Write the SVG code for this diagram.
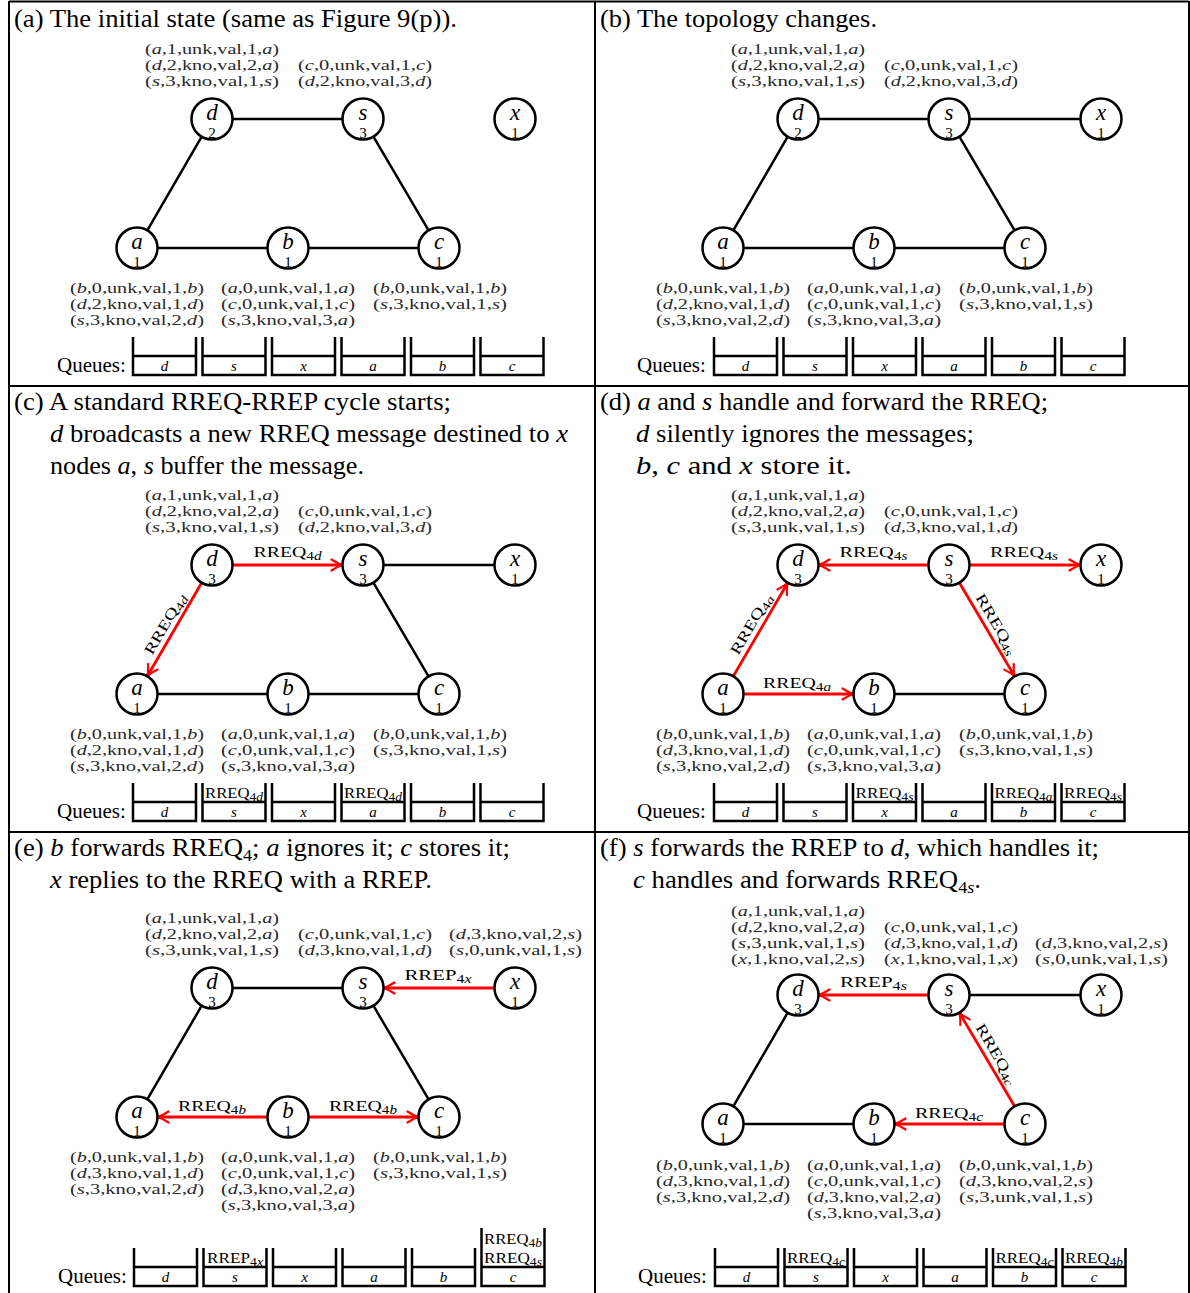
<svg xmlns="http://www.w3.org/2000/svg" width="1190" height="1293" viewBox="0 0 1190 1293">
<style>
text{font-family:"Liberation Serif","Times New Roman",serif;fill:#000}
.t{font-size:25px}
.e text{font-size:14px;fill:#2a2a2a}
.i{font-style:italic}
.nl{font-size:23px;font-style:italic;text-anchor:middle}
.nn{font-size:15px;text-anchor:middle}
.node circle{fill:#fff;stroke:#000;stroke-width:2.5}
.ln{stroke:#000;stroke-width:2.5;fill:none}
.rd{stroke:#f00;stroke-width:2.8;fill:none;marker-end:url(#arr)}
.lb{font-size:15px;text-anchor:middle}
.sb{font-size:11.5px}
.frame{stroke:#000;stroke-width:2;fill:none}
.qb{stroke:#000;stroke-width:2.5;fill:none}
.qn{font-size:21px}
.ql{font-size:15px;font-style:italic;text-anchor:middle}
.qm{font-size:15px;text-anchor:middle}
.qs{font-size:12px}
</style>
<defs>
<marker id="arr" markerUnits="userSpaceOnUse" markerWidth="16" markerHeight="14" viewBox="-14 -7 16 14" refX="0" refY="0" orient="auto" overflow="visible">
<path d="M-11,-5.5 Q-5,-1.5 0,0 Q-5,1.5 -11,5.5" fill="none" stroke="#f00" stroke-width="2.2" stroke-linecap="round"/>
</marker>
</defs>
<rect width="1190" height="1293" fill="#fff"/>
<path class="frame" d="M9,1.5 H1189 M9,1 V1293 M595,1 V1293 M1189,1 V1293 M9,386 H1189 M9,832 H1189"/>

<!-- Titles -->
<g id="titles">
<text class="t" x="14" y="27" textLength="443" lengthAdjust="spacingAndGlyphs">(a) The initial state (same as Figure 9(p)).</text>
<text class="t" x="600" y="27" textLength="277" lengthAdjust="spacingAndGlyphs">(b) The topology changes.</text>
<text class="t" x="14" y="410" textLength="437" lengthAdjust="spacingAndGlyphs">(c) A standard RREQ-RREP cycle starts;</text>
<text class="t" x="50" y="442" textLength="518" lengthAdjust="spacingAndGlyphs"><tspan class="i">d</tspan> broadcasts a new RREQ message destined to <tspan class="i">x</tspan></text>
<text class="t" x="50" y="474" textLength="314" lengthAdjust="spacingAndGlyphs">nodes <tspan class="i">a</tspan>, <tspan class="i">s</tspan> buffer the message.</text>
<text class="t" x="600" y="410" textLength="448" lengthAdjust="spacingAndGlyphs">(d) <tspan class="i">a</tspan> and <tspan class="i">s</tspan> handle and forward the RREQ;</text>
<text class="t" x="636" y="442" textLength="338" lengthAdjust="spacingAndGlyphs"><tspan class="i">d</tspan> silently ignores the messages;</text>
<text class="t" x="636" y="474" textLength="216" lengthAdjust="spacingAndGlyphs"><tspan class="i">b</tspan>, <tspan class="i">c</tspan> and <tspan class="i">x</tspan> store it.</text>
<text class="t" x="14" y="856" textLength="496" lengthAdjust="spacingAndGlyphs">(e) <tspan class="i">b</tspan> forwards RREQ<tspan font-size="17" dy="5">4</tspan><tspan dy="-5">; </tspan><tspan class="i">a</tspan> ignores it; <tspan class="i">c</tspan> stores it;</text>
<text class="t" x="50" y="888" textLength="382" lengthAdjust="spacingAndGlyphs"><tspan class="i">x</tspan> replies to the RREQ with a RREP.</text>
<text class="t" x="600" y="856" textLength="499" lengthAdjust="spacingAndGlyphs">(f) <tspan class="i">s</tspan> forwards the RREP to <tspan class="i">d</tspan>, which handles it;</text>
<text class="t" x="633" y="888" textLength="348" lengthAdjust="spacingAndGlyphs"><tspan class="i">c</tspan> handles and forwards RREQ<tspan font-size="17" dy="5">4<tspan class="i">s</tspan></tspan><tspan dy="-5">.</tspan></text>
</g>

<!-- Panel (a) -->
<g id="panel-a">
<g id="a-edges">
<path class="ln" d="M232.5,119 H342.5"/>
<path class="ln" d="M201.7,136.7 L147.3,230.3"/>
<path class="ln" d="M373.4,136.7 L428.6,230.3"/>
<path class="ln" d="M157.5,248 H267.5"/>
<path class="ln" d="M308.5,248 H418.5"/>
</g>
<g id="a-d" class="node"><circle cx="212" cy="119" r="20.5"/><text class="nl" x="212" y="119.5">d</text><text class="nn" x="212" y="138">2</text></g>
<g id="a-s" class="node"><circle cx="363" cy="119" r="20.5"/><text class="nl" x="363" y="119.5">s</text><text class="nn" x="363" y="138">3</text></g>
<g id="a-x" class="node"><circle cx="515" cy="119" r="20.5"/><text class="nl" x="515" y="119.5">x</text><text class="nn" x="515" y="138">1</text></g>
<g id="a-a" class="node"><circle cx="137" cy="248" r="20.5"/><text class="nl" x="137" y="248.5">a</text><text class="nn" x="137" y="267">1</text></g>
<g id="a-b" class="node"><circle cx="288" cy="248" r="20.5"/><text class="nl" x="288" y="248.5">b</text><text class="nn" x="288" y="267">1</text></g>
<g id="a-c" class="node"><circle cx="439" cy="248" r="20.5"/><text class="nl" x="439" y="248.5">c</text><text class="nn" x="439" y="267">1</text></g>
<g class="e">
<text x="145" y="53.5" textLength="134" lengthAdjust="spacingAndGlyphs">(<tspan class="i">a</tspan>,1,unk,val,1,<tspan class="i">a</tspan>)</text>
<text x="145" y="69.5" textLength="134" lengthAdjust="spacingAndGlyphs">(<tspan class="i">d</tspan>,2,kno,val,2,<tspan class="i">a</tspan>)</text>
<text x="145" y="85.5" textLength="134" lengthAdjust="spacingAndGlyphs">(<tspan class="i">s</tspan>,3,kno,val,1,<tspan class="i">s</tspan>)</text>
<text x="298" y="69.5" textLength="134" lengthAdjust="spacingAndGlyphs">(<tspan class="i">c</tspan>,0,unk,val,1,<tspan class="i">c</tspan>)</text>
<text x="298" y="85.5" textLength="134" lengthAdjust="spacingAndGlyphs">(<tspan class="i">d</tspan>,2,kno,val,3,<tspan class="i">d</tspan>)</text>
<text x="70" y="292.5" textLength="134" lengthAdjust="spacingAndGlyphs">(<tspan class="i">b</tspan>,0,unk,val,1,<tspan class="i">b</tspan>)</text>
<text x="70" y="308.5" textLength="134" lengthAdjust="spacingAndGlyphs">(<tspan class="i">d</tspan>,2,kno,val,1,<tspan class="i">d</tspan>)</text>
<text x="70" y="324.5" textLength="134" lengthAdjust="spacingAndGlyphs">(<tspan class="i">s</tspan>,3,kno,val,2,<tspan class="i">d</tspan>)</text>
<text x="221" y="292.5" textLength="134" lengthAdjust="spacingAndGlyphs">(<tspan class="i">a</tspan>,0,unk,val,1,<tspan class="i">a</tspan>)</text>
<text x="221" y="308.5" textLength="134" lengthAdjust="spacingAndGlyphs">(<tspan class="i">c</tspan>,0,unk,val,1,<tspan class="i">c</tspan>)</text>
<text x="221" y="324.5" textLength="134" lengthAdjust="spacingAndGlyphs">(<tspan class="i">s</tspan>,3,kno,val,3,<tspan class="i">a</tspan>)</text>
<text x="373" y="292.5" textLength="134" lengthAdjust="spacingAndGlyphs">(<tspan class="i">b</tspan>,0,unk,val,1,<tspan class="i">b</tspan>)</text>
<text x="373" y="308.5" textLength="134" lengthAdjust="spacingAndGlyphs">(<tspan class="i">s</tspan>,3,kno,val,1,<tspan class="i">s</tspan>)</text>
</g>
</g>

<!-- Panel (b) -->
<g id="panel-b" transform="translate(586,0)">
<g id="b-edges">
<path class="ln" d="M232.5,119 H342.5"/>
<path class="ln" d="M383.5,119 H494.5"/>
<path class="ln" d="M201.7,136.7 L147.3,230.3"/>
<path class="ln" d="M373.4,136.7 L428.6,230.3"/>
<path class="ln" d="M157.5,248 H267.5"/>
<path class="ln" d="M308.5,248 H418.5"/>
</g>
<g id="b-d" class="node"><circle cx="212" cy="119" r="20.5"/><text class="nl" x="212" y="119.5">d</text><text class="nn" x="212" y="138">2</text></g>
<g id="b-s" class="node"><circle cx="363" cy="119" r="20.5"/><text class="nl" x="363" y="119.5">s</text><text class="nn" x="363" y="138">3</text></g>
<g id="b-x" class="node"><circle cx="515" cy="119" r="20.5"/><text class="nl" x="515" y="119.5">x</text><text class="nn" x="515" y="138">1</text></g>
<g id="b-a" class="node"><circle cx="137" cy="248" r="20.5"/><text class="nl" x="137" y="248.5">a</text><text class="nn" x="137" y="267">1</text></g>
<g id="b-b" class="node"><circle cx="288" cy="248" r="20.5"/><text class="nl" x="288" y="248.5">b</text><text class="nn" x="288" y="267">1</text></g>
<g id="b-c" class="node"><circle cx="439" cy="248" r="20.5"/><text class="nl" x="439" y="248.5">c</text><text class="nn" x="439" y="267">1</text></g>
<g class="e">
<text x="145" y="53.5" textLength="134" lengthAdjust="spacingAndGlyphs">(<tspan class="i">a</tspan>,1,unk,val,1,<tspan class="i">a</tspan>)</text>
<text x="145" y="69.5" textLength="134" lengthAdjust="spacingAndGlyphs">(<tspan class="i">d</tspan>,2,kno,val,2,<tspan class="i">a</tspan>)</text>
<text x="145" y="85.5" textLength="134" lengthAdjust="spacingAndGlyphs">(<tspan class="i">s</tspan>,3,kno,val,1,<tspan class="i">s</tspan>)</text>
<text x="298" y="69.5" textLength="134" lengthAdjust="spacingAndGlyphs">(<tspan class="i">c</tspan>,0,unk,val,1,<tspan class="i">c</tspan>)</text>
<text x="298" y="85.5" textLength="134" lengthAdjust="spacingAndGlyphs">(<tspan class="i">d</tspan>,2,kno,val,3,<tspan class="i">d</tspan>)</text>
<text x="70" y="292.5" textLength="134" lengthAdjust="spacingAndGlyphs">(<tspan class="i">b</tspan>,0,unk,val,1,<tspan class="i">b</tspan>)</text>
<text x="70" y="308.5" textLength="134" lengthAdjust="spacingAndGlyphs">(<tspan class="i">d</tspan>,2,kno,val,1,<tspan class="i">d</tspan>)</text>
<text x="70" y="324.5" textLength="134" lengthAdjust="spacingAndGlyphs">(<tspan class="i">s</tspan>,3,kno,val,2,<tspan class="i">d</tspan>)</text>
<text x="221" y="292.5" textLength="134" lengthAdjust="spacingAndGlyphs">(<tspan class="i">a</tspan>,0,unk,val,1,<tspan class="i">a</tspan>)</text>
<text x="221" y="308.5" textLength="134" lengthAdjust="spacingAndGlyphs">(<tspan class="i">c</tspan>,0,unk,val,1,<tspan class="i">c</tspan>)</text>
<text x="221" y="324.5" textLength="134" lengthAdjust="spacingAndGlyphs">(<tspan class="i">s</tspan>,3,kno,val,3,<tspan class="i">a</tspan>)</text>
<text x="373" y="292.5" textLength="134" lengthAdjust="spacingAndGlyphs">(<tspan class="i">b</tspan>,0,unk,val,1,<tspan class="i">b</tspan>)</text>
<text x="373" y="308.5" textLength="134" lengthAdjust="spacingAndGlyphs">(<tspan class="i">s</tspan>,3,kno,val,1,<tspan class="i">s</tspan>)</text>
</g>
</g>

<!-- Panel (c) -->
<g id="panel-c" transform="translate(0,446)">
<g id="c-edges">
<path class="rd" d="M232.5,119 H342.5"/>
<path class="ln" d="M383.5,119 H494.5"/>
<path class="rd" d="M201.7,136.7 L147.3,230.3"/>
<path class="ln" d="M373.4,136.7 L428.6,230.3"/>
<path class="ln" d="M157.5,248 H267.5"/>
<path class="ln" d="M308.5,248 H418.5"/>
<text class="lb" x="287.5" y="111" textLength="68" lengthAdjust="spacingAndGlyphs">RREQ<tspan class="sb" dy="3">4<tspan class="i">d</tspan></tspan></text>
<text class="lb" transform="translate(174.5,183.5) rotate(-59.8)" x="0" y="-6" textLength="68" lengthAdjust="spacingAndGlyphs">RREQ<tspan class="sb" dy="3">4<tspan class="i">d</tspan></tspan></text>
</g>
<g id="c-d" class="node"><circle cx="212" cy="119" r="20.5"/><text class="nl" x="212" y="119.5">d</text><text class="nn" x="212" y="138">3</text></g>
<g id="c-s" class="node"><circle cx="363" cy="119" r="20.5"/><text class="nl" x="363" y="119.5">s</text><text class="nn" x="363" y="138">3</text></g>
<g id="c-x" class="node"><circle cx="515" cy="119" r="20.5"/><text class="nl" x="515" y="119.5">x</text><text class="nn" x="515" y="138">1</text></g>
<g id="c-a" class="node"><circle cx="137" cy="248" r="20.5"/><text class="nl" x="137" y="248.5">a</text><text class="nn" x="137" y="267">1</text></g>
<g id="c-b" class="node"><circle cx="288" cy="248" r="20.5"/><text class="nl" x="288" y="248.5">b</text><text class="nn" x="288" y="267">1</text></g>
<g id="c-c" class="node"><circle cx="439" cy="248" r="20.5"/><text class="nl" x="439" y="248.5">c</text><text class="nn" x="439" y="267">1</text></g>
<g class="e">
<text x="145" y="53.5" textLength="134" lengthAdjust="spacingAndGlyphs">(<tspan class="i">a</tspan>,1,unk,val,1,<tspan class="i">a</tspan>)</text>
<text x="145" y="69.5" textLength="134" lengthAdjust="spacingAndGlyphs">(<tspan class="i">d</tspan>,2,kno,val,2,<tspan class="i">a</tspan>)</text>
<text x="145" y="85.5" textLength="134" lengthAdjust="spacingAndGlyphs">(<tspan class="i">s</tspan>,3,kno,val,1,<tspan class="i">s</tspan>)</text>
<text x="298" y="69.5" textLength="134" lengthAdjust="spacingAndGlyphs">(<tspan class="i">c</tspan>,0,unk,val,1,<tspan class="i">c</tspan>)</text>
<text x="298" y="85.5" textLength="134" lengthAdjust="spacingAndGlyphs">(<tspan class="i">d</tspan>,2,kno,val,3,<tspan class="i">d</tspan>)</text>
<text x="70" y="292.5" textLength="134" lengthAdjust="spacingAndGlyphs">(<tspan class="i">b</tspan>,0,unk,val,1,<tspan class="i">b</tspan>)</text>
<text x="70" y="308.5" textLength="134" lengthAdjust="spacingAndGlyphs">(<tspan class="i">d</tspan>,2,kno,val,1,<tspan class="i">d</tspan>)</text>
<text x="70" y="324.5" textLength="134" lengthAdjust="spacingAndGlyphs">(<tspan class="i">s</tspan>,3,kno,val,2,<tspan class="i">d</tspan>)</text>
<text x="221" y="292.5" textLength="134" lengthAdjust="spacingAndGlyphs">(<tspan class="i">a</tspan>,0,unk,val,1,<tspan class="i">a</tspan>)</text>
<text x="221" y="308.5" textLength="134" lengthAdjust="spacingAndGlyphs">(<tspan class="i">c</tspan>,0,unk,val,1,<tspan class="i">c</tspan>)</text>
<text x="221" y="324.5" textLength="134" lengthAdjust="spacingAndGlyphs">(<tspan class="i">s</tspan>,3,kno,val,3,<tspan class="i">a</tspan>)</text>
<text x="373" y="292.5" textLength="134" lengthAdjust="spacingAndGlyphs">(<tspan class="i">b</tspan>,0,unk,val,1,<tspan class="i">b</tspan>)</text>
<text x="373" y="308.5" textLength="134" lengthAdjust="spacingAndGlyphs">(<tspan class="i">s</tspan>,3,kno,val,1,<tspan class="i">s</tspan>)</text>
</g>
</g>

<!-- Panel (d) -->
<g id="panel-d" transform="translate(586,446)">
<g id="d-edges">
<path class="rd" d="M342.5,119 H232.5"/>
<path class="rd" d="M383.5,119 H494.5"/>
<path class="rd" d="M147.3,230.3 L201.7,136.7"/>
<path class="rd" d="M373.4,136.7 L428.6,230.3"/>
<path class="rd" d="M157.5,248 H267.5"/>
<path class="ln" d="M308.5,248 H418.5"/>
<text class="lb" x="287.5" y="111" textLength="68" lengthAdjust="spacingAndGlyphs">RREQ<tspan class="sb" dy="3">4<tspan class="i">s</tspan></tspan></text>
<text class="lb" x="438" y="111" textLength="68" lengthAdjust="spacingAndGlyphs">RREQ<tspan class="sb" dy="3">4<tspan class="i">s</tspan></tspan></text>
<text class="lb" x="211" y="242" textLength="68" lengthAdjust="spacingAndGlyphs">RREQ<tspan class="sb" dy="3">4<tspan class="i">a</tspan></tspan></text>
<text class="lb" transform="translate(174.5,183.5) rotate(-59.8)" x="0" y="-6" textLength="68" lengthAdjust="spacingAndGlyphs">RREQ<tspan class="sb" dy="3">4<tspan class="i">a</tspan></tspan></text>
<text class="lb" transform="translate(401,183.5) rotate(59.5)" x="0" y="-6" textLength="68" lengthAdjust="spacingAndGlyphs">RREQ<tspan class="sb" dy="3">4<tspan class="i">s</tspan></tspan></text>
</g>
<g id="d-d" class="node"><circle cx="212" cy="119" r="20.5"/><text class="nl" x="212" y="119.5">d</text><text class="nn" x="212" y="138">3</text></g>
<g id="d-s" class="node"><circle cx="363" cy="119" r="20.5"/><text class="nl" x="363" y="119.5">s</text><text class="nn" x="363" y="138">3</text></g>
<g id="d-x" class="node"><circle cx="515" cy="119" r="20.5"/><text class="nl" x="515" y="119.5">x</text><text class="nn" x="515" y="138">1</text></g>
<g id="d-a" class="node"><circle cx="137" cy="248" r="20.5"/><text class="nl" x="137" y="248.5">a</text><text class="nn" x="137" y="267">1</text></g>
<g id="d-b" class="node"><circle cx="288" cy="248" r="20.5"/><text class="nl" x="288" y="248.5">b</text><text class="nn" x="288" y="267">1</text></g>
<g id="d-c" class="node"><circle cx="439" cy="248" r="20.5"/><text class="nl" x="439" y="248.5">c</text><text class="nn" x="439" y="267">1</text></g>
<g class="e">
<text x="145" y="53.5" textLength="134" lengthAdjust="spacingAndGlyphs">(<tspan class="i">a</tspan>,1,unk,val,1,<tspan class="i">a</tspan>)</text>
<text x="145" y="69.5" textLength="134" lengthAdjust="spacingAndGlyphs">(<tspan class="i">d</tspan>,2,kno,val,2,<tspan class="i">a</tspan>)</text>
<text x="145" y="85.5" textLength="134" lengthAdjust="spacingAndGlyphs">(<tspan class="i">s</tspan>,3,unk,val,1,<tspan class="i">s</tspan>)</text>
<text x="298" y="69.5" textLength="134" lengthAdjust="spacingAndGlyphs">(<tspan class="i">c</tspan>,0,unk,val,1,<tspan class="i">c</tspan>)</text>
<text x="298" y="85.5" textLength="134" lengthAdjust="spacingAndGlyphs">(<tspan class="i">d</tspan>,3,kno,val,1,<tspan class="i">d</tspan>)</text>
<text x="70" y="292.5" textLength="134" lengthAdjust="spacingAndGlyphs">(<tspan class="i">b</tspan>,0,unk,val,1,<tspan class="i">b</tspan>)</text>
<text x="70" y="308.5" textLength="134" lengthAdjust="spacingAndGlyphs">(<tspan class="i">d</tspan>,3,kno,val,1,<tspan class="i">d</tspan>)</text>
<text x="70" y="324.5" textLength="134" lengthAdjust="spacingAndGlyphs">(<tspan class="i">s</tspan>,3,kno,val,2,<tspan class="i">d</tspan>)</text>
<text x="221" y="292.5" textLength="134" lengthAdjust="spacingAndGlyphs">(<tspan class="i">a</tspan>,0,unk,val,1,<tspan class="i">a</tspan>)</text>
<text x="221" y="308.5" textLength="134" lengthAdjust="spacingAndGlyphs">(<tspan class="i">c</tspan>,0,unk,val,1,<tspan class="i">c</tspan>)</text>
<text x="221" y="324.5" textLength="134" lengthAdjust="spacingAndGlyphs">(<tspan class="i">s</tspan>,3,kno,val,3,<tspan class="i">a</tspan>)</text>
<text x="373" y="292.5" textLength="134" lengthAdjust="spacingAndGlyphs">(<tspan class="i">b</tspan>,0,unk,val,1,<tspan class="i">b</tspan>)</text>
<text x="373" y="308.5" textLength="134" lengthAdjust="spacingAndGlyphs">(<tspan class="i">s</tspan>,3,kno,val,1,<tspan class="i">s</tspan>)</text>
</g>
</g>

<!-- Panel (e) -->
<g id="panel-e" transform="translate(0,869)">
<g id="e-edges">
<path class="ln" d="M232.5,119 H342.5"/>
<path class="rd" d="M494.5,119 H383.5"/>
<path class="ln" d="M201.7,136.7 L147.3,230.3"/>
<path class="ln" d="M373.4,136.7 L428.6,230.3"/>
<path class="rd" d="M267.5,248 H157.5"/>
<path class="rd" d="M308.5,248 H418.5"/>
<text class="lb" x="438" y="111" textLength="67" lengthAdjust="spacingAndGlyphs">RREP<tspan class="sb" dy="3">4<tspan class="i">x</tspan></tspan></text>
<text class="lb" x="212" y="242" textLength="68" lengthAdjust="spacingAndGlyphs">RREQ<tspan class="sb" dy="3">4<tspan class="i">b</tspan></tspan></text>
<text class="lb" x="363" y="242" textLength="68" lengthAdjust="spacingAndGlyphs">RREQ<tspan class="sb" dy="3">4<tspan class="i">b</tspan></tspan></text>
</g>
<g id="e-d" class="node"><circle cx="212" cy="119" r="20.5"/><text class="nl" x="212" y="119.5">d</text><text class="nn" x="212" y="138">3</text></g>
<g id="e-s" class="node"><circle cx="363" cy="119" r="20.5"/><text class="nl" x="363" y="119.5">s</text><text class="nn" x="363" y="138">3</text></g>
<g id="e-x" class="node"><circle cx="515" cy="119" r="20.5"/><text class="nl" x="515" y="119.5">x</text><text class="nn" x="515" y="138">1</text></g>
<g id="e-a" class="node"><circle cx="137" cy="248" r="20.5"/><text class="nl" x="137" y="248.5">a</text><text class="nn" x="137" y="267">1</text></g>
<g id="e-b" class="node"><circle cx="288" cy="248" r="20.5"/><text class="nl" x="288" y="248.5">b</text><text class="nn" x="288" y="267">1</text></g>
<g id="e-c" class="node"><circle cx="439" cy="248" r="20.5"/><text class="nl" x="439" y="248.5">c</text><text class="nn" x="439" y="267">1</text></g>
<g class="e">
<text x="145" y="53.5" textLength="134" lengthAdjust="spacingAndGlyphs">(<tspan class="i">a</tspan>,1,unk,val,1,<tspan class="i">a</tspan>)</text>
<text x="145" y="69.5" textLength="134" lengthAdjust="spacingAndGlyphs">(<tspan class="i">d</tspan>,2,kno,val,2,<tspan class="i">a</tspan>)</text>
<text x="145" y="85.5" textLength="134" lengthAdjust="spacingAndGlyphs">(<tspan class="i">s</tspan>,3,unk,val,1,<tspan class="i">s</tspan>)</text>
<text x="298" y="69.5" textLength="134" lengthAdjust="spacingAndGlyphs">(<tspan class="i">c</tspan>,0,unk,val,1,<tspan class="i">c</tspan>)</text>
<text x="298" y="85.5" textLength="134" lengthAdjust="spacingAndGlyphs">(<tspan class="i">d</tspan>,3,kno,val,1,<tspan class="i">d</tspan>)</text>
<text x="449" y="69.5" textLength="133" lengthAdjust="spacingAndGlyphs">(<tspan class="i">d</tspan>,3,kno,val,2,<tspan class="i">s</tspan>)</text>
<text x="449" y="85.5" textLength="133" lengthAdjust="spacingAndGlyphs">(<tspan class="i">s</tspan>,0,unk,val,1,<tspan class="i">s</tspan>)</text>
<text x="70" y="292.5" textLength="134" lengthAdjust="spacingAndGlyphs">(<tspan class="i">b</tspan>,0,unk,val,1,<tspan class="i">b</tspan>)</text>
<text x="70" y="308.5" textLength="134" lengthAdjust="spacingAndGlyphs">(<tspan class="i">d</tspan>,3,kno,val,1,<tspan class="i">d</tspan>)</text>
<text x="70" y="324.5" textLength="134" lengthAdjust="spacingAndGlyphs">(<tspan class="i">s</tspan>,3,kno,val,2,<tspan class="i">d</tspan>)</text>
<text x="221" y="292.5" textLength="134" lengthAdjust="spacingAndGlyphs">(<tspan class="i">a</tspan>,0,unk,val,1,<tspan class="i">a</tspan>)</text>
<text x="221" y="308.5" textLength="134" lengthAdjust="spacingAndGlyphs">(<tspan class="i">c</tspan>,0,unk,val,1,<tspan class="i">c</tspan>)</text>
<text x="221" y="324.5" textLength="134" lengthAdjust="spacingAndGlyphs">(<tspan class="i">d</tspan>,3,kno,val,2,<tspan class="i">a</tspan>)</text>
<text x="221" y="340.5" textLength="134" lengthAdjust="spacingAndGlyphs">(<tspan class="i">s</tspan>,3,kno,val,3,<tspan class="i">a</tspan>)</text>
<text x="373" y="292.5" textLength="134" lengthAdjust="spacingAndGlyphs">(<tspan class="i">b</tspan>,0,unk,val,1,<tspan class="i">b</tspan>)</text>
<text x="373" y="308.5" textLength="134" lengthAdjust="spacingAndGlyphs">(<tspan class="i">s</tspan>,3,kno,val,1,<tspan class="i">s</tspan>)</text>
</g>
</g>

<!-- Panel (f) -->
<g id="panel-f" transform="translate(586,876)">
<g id="f-edges">
<path class="rd" d="M342.5,119 H232.5"/>
<path class="ln" d="M383.5,119 H494.5"/>
<path class="ln" d="M201.7,136.7 L147.3,230.3"/>
<path class="rd" d="M428.6,230.3 L373.4,136.7"/>
<path class="ln" d="M157.5,248 H267.5"/>
<path class="rd" d="M418.5,248 H308.5"/>
<text class="lb" x="287.5" y="111" textLength="67" lengthAdjust="spacingAndGlyphs">RREP<tspan class="sb" dy="3">4<tspan class="i">s</tspan></tspan></text>
<text class="lb" x="363" y="242" textLength="68" lengthAdjust="spacingAndGlyphs">RREQ<tspan class="sb" dy="3">4<tspan class="i">c</tspan></tspan></text>
<text class="lb" transform="translate(401,183.5) rotate(59.5)" x="0" y="-6" textLength="68" lengthAdjust="spacingAndGlyphs">RREQ<tspan class="sb" dy="3">4<tspan class="i">c</tspan></tspan></text>
</g>
<g id="f-d" class="node"><circle cx="212" cy="119" r="20.5"/><text class="nl" x="212" y="119.5">d</text><text class="nn" x="212" y="138">3</text></g>
<g id="f-s" class="node"><circle cx="363" cy="119" r="20.5"/><text class="nl" x="363" y="119.5">s</text><text class="nn" x="363" y="138">3</text></g>
<g id="f-x" class="node"><circle cx="515" cy="119" r="20.5"/><text class="nl" x="515" y="119.5">x</text><text class="nn" x="515" y="138">1</text></g>
<g id="f-a" class="node"><circle cx="137" cy="248" r="20.5"/><text class="nl" x="137" y="248.5">a</text><text class="nn" x="137" y="267">1</text></g>
<g id="f-b" class="node"><circle cx="288" cy="248" r="20.5"/><text class="nl" x="288" y="248.5">b</text><text class="nn" x="288" y="267">1</text></g>
<g id="f-c" class="node"><circle cx="439" cy="248" r="20.5"/><text class="nl" x="439" y="248.5">c</text><text class="nn" x="439" y="267">1</text></g>
<g class="e">
<text x="145" y="39.5" textLength="134" lengthAdjust="spacingAndGlyphs">(<tspan class="i">a</tspan>,1,unk,val,1,<tspan class="i">a</tspan>)</text>
<text x="145" y="55.5" textLength="134" lengthAdjust="spacingAndGlyphs">(<tspan class="i">d</tspan>,2,kno,val,2,<tspan class="i">a</tspan>)</text>
<text x="145" y="71.5" textLength="134" lengthAdjust="spacingAndGlyphs">(<tspan class="i">s</tspan>,3,unk,val,1,<tspan class="i">s</tspan>)</text>
<text x="145" y="87.5" textLength="134" lengthAdjust="spacingAndGlyphs">(<tspan class="i">x</tspan>,1,kno,val,2,<tspan class="i">s</tspan>)</text>
<text x="298" y="55.5" textLength="134" lengthAdjust="spacingAndGlyphs">(<tspan class="i">c</tspan>,0,unk,val,1,<tspan class="i">c</tspan>)</text>
<text x="298" y="71.5" textLength="134" lengthAdjust="spacingAndGlyphs">(<tspan class="i">d</tspan>,3,kno,val,1,<tspan class="i">d</tspan>)</text>
<text x="298" y="87.5" textLength="134" lengthAdjust="spacingAndGlyphs">(<tspan class="i">x</tspan>,1,kno,val,1,<tspan class="i">x</tspan>)</text>
<text x="449" y="71.5" textLength="133" lengthAdjust="spacingAndGlyphs">(<tspan class="i">d</tspan>,3,kno,val,2,<tspan class="i">s</tspan>)</text>
<text x="449" y="87.5" textLength="133" lengthAdjust="spacingAndGlyphs">(<tspan class="i">s</tspan>,0,unk,val,1,<tspan class="i">s</tspan>)</text>
<text x="70" y="293.5" textLength="134" lengthAdjust="spacingAndGlyphs">(<tspan class="i">b</tspan>,0,unk,val,1,<tspan class="i">b</tspan>)</text>
<text x="70" y="309.5" textLength="134" lengthAdjust="spacingAndGlyphs">(<tspan class="i">d</tspan>,3,kno,val,1,<tspan class="i">d</tspan>)</text>
<text x="70" y="325.5" textLength="134" lengthAdjust="spacingAndGlyphs">(<tspan class="i">s</tspan>,3,kno,val,2,<tspan class="i">d</tspan>)</text>
<text x="221" y="293.5" textLength="134" lengthAdjust="spacingAndGlyphs">(<tspan class="i">a</tspan>,0,unk,val,1,<tspan class="i">a</tspan>)</text>
<text x="221" y="309.5" textLength="134" lengthAdjust="spacingAndGlyphs">(<tspan class="i">c</tspan>,0,unk,val,1,<tspan class="i">c</tspan>)</text>
<text x="221" y="325.5" textLength="134" lengthAdjust="spacingAndGlyphs">(<tspan class="i">d</tspan>,3,kno,val,2,<tspan class="i">a</tspan>)</text>
<text x="221" y="341.5" textLength="134" lengthAdjust="spacingAndGlyphs">(<tspan class="i">s</tspan>,3,kno,val,3,<tspan class="i">a</tspan>)</text>
<text x="373" y="293.5" textLength="134" lengthAdjust="spacingAndGlyphs">(<tspan class="i">b</tspan>,0,unk,val,1,<tspan class="i">b</tspan>)</text>
<text x="373" y="309.5" textLength="134" lengthAdjust="spacingAndGlyphs">(<tspan class="i">d</tspan>,3,kno,val,2,<tspan class="i">s</tspan>)</text>
<text x="373" y="325.5" textLength="134" lengthAdjust="spacingAndGlyphs">(<tspan class="i">s</tspan>,3,unk,val,1,<tspan class="i">s</tspan>)</text>
</g>
</g>

<!-- Queues -->
<g id="queues-a">
<text class="qn" x="57" y="372">Queues:</text>
<path class="qb" d="M133,337 V375 H196 V337 M133,356 H196 M202.5,337 V375 H265.5 V337 M202.5,356 H265.5 M272,337 V375 H335 V337 M272,356 H335 M341.5,337 V375 H404.5 V337 M341.5,356 H404.5 M411,337 V375 H474 V337 M411,356 H474 M480.5,337 V375 H543.5 V337 M480.5,356 H543.5"/>
<text class="ql" x="164.5" y="371">d</text><text class="ql" x="234" y="371">s</text><text class="ql" x="303.5" y="371">x</text><text class="ql" x="373" y="371">a</text><text class="ql" x="442.5" y="371">b</text><text class="ql" x="512" y="371">c</text>
</g>
<g id="queues-b">
<text class="qn" x="637" y="372">Queues:</text>
<path class="qb" d="M714,337 V375 H777 V337 M714,356 H777 M783.5,337 V375 H846.5 V337 M783.5,356 H846.5 M853,337 V375 H916 V337 M853,356 H916 M922.5,337 V375 H985.5 V337 M922.5,356 H985.5 M992,337 V375 H1055 V337 M992,356 H1055 M1061.5,337 V375 H1124.5 V337 M1061.5,356 H1124.5"/>
<text class="ql" x="745.5" y="371">d</text><text class="ql" x="815" y="371">s</text><text class="ql" x="884.5" y="371">x</text><text class="ql" x="954" y="371">a</text><text class="ql" x="1023.5" y="371">b</text><text class="ql" x="1093" y="371">c</text>
</g>
<g id="queues-c">
<text class="qn" x="57" y="818">Queues:</text>
<path class="qb" d="M133,783 V821 H196 V783 M133,802 H196 M202.5,783 V821 H265.5 V783 M202.5,802 H265.5 M272,783 V821 H335 V783 M272,802 H335 M341.5,783 V821 H404.5 V783 M341.5,802 H404.5 M411,783 V821 H474 V783 M411,802 H474 M480.5,783 V821 H543.5 V783 M480.5,802 H543.5"/>
<text class="ql" x="164.5" y="817">d</text><text class="ql" x="234" y="817">s</text><text class="ql" x="303.5" y="817">x</text><text class="ql" x="373" y="817">a</text><text class="ql" x="442.5" y="817">b</text><text class="ql" x="512" y="817">c</text>
<text class="qm" x="234" y="798" textLength="58" lengthAdjust="spacingAndGlyphs">RREQ<tspan class="qs" dy="3">4<tspan class="i">d</tspan></tspan></text>
<text class="qm" x="373" y="798" textLength="58" lengthAdjust="spacingAndGlyphs">RREQ<tspan class="qs" dy="3">4<tspan class="i">d</tspan></tspan></text>
</g>
<g id="queues-d">
<text class="qn" x="637" y="818">Queues:</text>
<path class="qb" d="M714,783 V821 H777 V783 M714,802 H777 M783.5,783 V821 H846.5 V783 M783.5,802 H846.5 M853,783 V821 H916 V783 M853,802 H916 M922.5,783 V821 H985.5 V783 M922.5,802 H985.5 M992,783 V821 H1055 V783 M992,802 H1055 M1061.5,783 V821 H1124.5 V783 M1061.5,802 H1124.5"/>
<text class="ql" x="745.5" y="817">d</text><text class="ql" x="815" y="817">s</text><text class="ql" x="884.5" y="817">x</text><text class="ql" x="954" y="817">a</text><text class="ql" x="1023.5" y="817">b</text><text class="ql" x="1093" y="817">c</text>
<text class="qm" x="884.5" y="798" textLength="58" lengthAdjust="spacingAndGlyphs">RREQ<tspan class="qs" dy="3">4<tspan class="i">s</tspan></tspan></text>
<text class="qm" x="1023.5" y="798" textLength="58" lengthAdjust="spacingAndGlyphs">RREQ<tspan class="qs" dy="3">4<tspan class="i">a</tspan></tspan></text>
<text class="qm" x="1093" y="798" textLength="58" lengthAdjust="spacingAndGlyphs">RREQ<tspan class="qs" dy="3">4<tspan class="i">s</tspan></tspan></text>
</g>
<g id="queues-e">
<text class="qn" x="58" y="1283">Queues:</text>
<path class="qb" d="M134,1248 V1286 H197 V1248 M134,1267 H197 M203.5,1248 V1286 H266.5 V1248 M203.5,1267 H266.5 M273,1248 V1286 H336 V1248 M273,1267 H336 M342.5,1248 V1286 H405.5 V1248 M342.5,1267 H405.5 M412,1248 V1286 H475 V1248 M412,1267 H475 M481.5,1228 V1286 H544.5 V1228 M481.5,1267 H544.5"/>
<text class="ql" x="165.5" y="1282">d</text><text class="ql" x="235" y="1282">s</text><text class="ql" x="304.5" y="1282">x</text><text class="ql" x="374" y="1282">a</text><text class="ql" x="443.5" y="1282">b</text><text class="ql" x="513" y="1282">c</text>
<text class="qm" x="235" y="1263" textLength="56" lengthAdjust="spacingAndGlyphs">RREP<tspan class="qs" dy="3">4<tspan class="i">x</tspan></tspan></text>
<text class="qm" x="513" y="1244" textLength="58" lengthAdjust="spacingAndGlyphs">RREQ<tspan class="qs" dy="3">4<tspan class="i">b</tspan></tspan></text>
<text class="qm" x="513" y="1263" textLength="58" lengthAdjust="spacingAndGlyphs">RREQ<tspan class="qs" dy="3">4<tspan class="i">s</tspan></tspan></text>
</g>
<g id="queues-f">
<text class="qn" x="638" y="1283">Queues:</text>
<path class="qb" d="M715,1248 V1286 H778 V1248 M715,1267 H778 M784.5,1248 V1286 H847.5 V1248 M784.5,1267 H847.5 M854,1248 V1286 H917 V1248 M854,1267 H917 M923.5,1248 V1286 H986.5 V1248 M923.5,1267 H986.5 M993,1248 V1286 H1056 V1248 M993,1267 H1056 M1062.5,1248 V1286 H1125.5 V1248 M1062.5,1267 H1125.5"/>
<text class="ql" x="746.5" y="1282">d</text><text class="ql" x="816" y="1282">s</text><text class="ql" x="885.5" y="1282">x</text><text class="ql" x="955" y="1282">a</text><text class="ql" x="1024.5" y="1282">b</text><text class="ql" x="1094" y="1282">c</text>
<text class="qm" x="816" y="1263" textLength="58" lengthAdjust="spacingAndGlyphs">RREQ<tspan class="qs" dy="3">4<tspan class="i">c</tspan></tspan></text>
<text class="qm" x="1024.5" y="1263" textLength="58" lengthAdjust="spacingAndGlyphs">RREQ<tspan class="qs" dy="3">4<tspan class="i">c</tspan></tspan></text>
<text class="qm" x="1094" y="1263" textLength="58" lengthAdjust="spacingAndGlyphs">RREQ<tspan class="qs" dy="3">4<tspan class="i">b</tspan></tspan></text>
</g>
</svg>
